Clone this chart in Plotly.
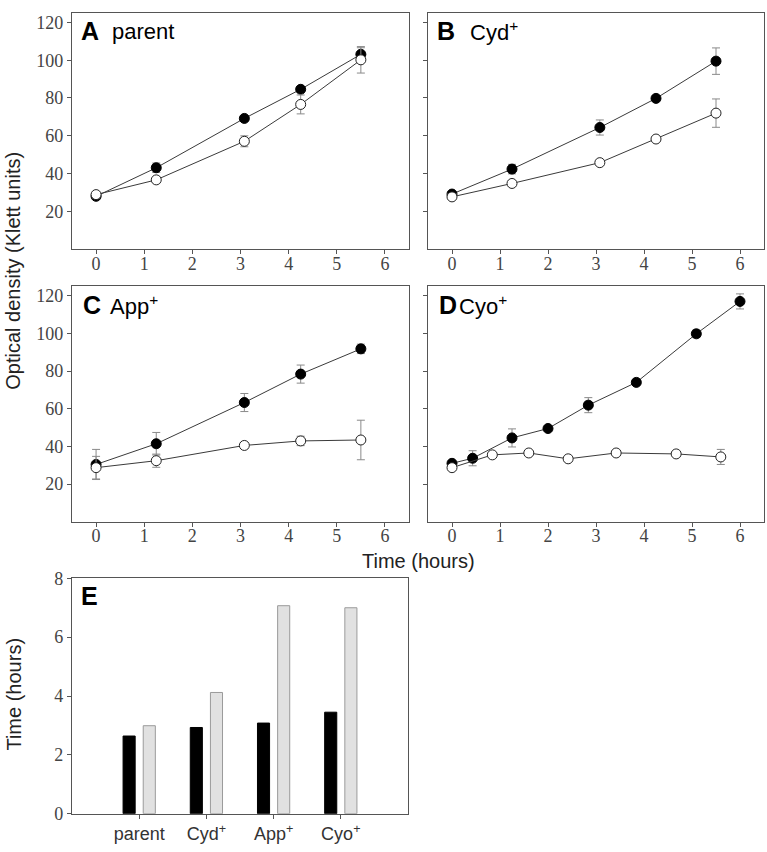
import plotly.graph_objects as go

# ---------------- data ----------------
# Panel A: parent
a_t = [0, 1.25, 3.08, 4.25, 5.5]
a_fill = [28.0, 43.1, 69.2, 84.6, 103.1]
a_fill_err = [1.5, 2.5, 1.0, 1.5, 3.5]
a_open = [28.9, 36.7, 57.1, 76.6, 100.2]
a_open_err = [1.0, 1.5, 2.9, 5.0, 7.0]

# Panel B: Cyd+
b_t = [0, 1.25, 3.08, 4.25, 5.5]
b_fill = [29.2, 42.4, 64.4, 79.8, 99.5]
b_fill_err = [1.0, 2.5, 4.0, 1.0, 7.0]
b_open = [27.7, 34.8, 45.8, 58.3, 72.0]
b_open_err = [1.0, 1.0, 1.0, 1.0, 7.5]

# Panel C: App+
c_t = [0, 1.25, 3.08, 4.25, 5.5]
c_fill = [30.4, 41.4, 63.3, 78.4, 91.8]
c_fill_err = [8.0, 6.0, 4.8, 4.8, 2.5]
c_open = [28.7, 32.4, 40.5, 42.9, 43.4]
c_open_err = [6.0, 3.5, 1.0, 2.5, 10.5]

# Panel D: Cyo+
d_t_fill = [0, 0.43, 1.25, 2.0, 2.84, 3.84, 5.09, 6.0]
d_fill = [31.0, 33.7, 44.5, 49.5, 61.9, 74.0, 99.8, 117.0]
d_fill_err = [1.0, 4.0, 4.8, 1.0, 4.0, 1.0, 2.0, 4.0]
d_t_open = [0, 0.84, 1.6, 2.42, 3.42, 4.67, 5.6]
d_open = [28.7, 35.5, 36.5, 33.4, 36.5, 36.0, 34.4]
d_open_err = [1.0, 1.0, 1.0, 1.0, 1.0, 1.0, 4.0]

# Panel E: times
e_categories = ["parent", "Cyd<sup>+</sup>", "App<sup>+</sup>", "Cyo<sup>+</sup>"]
e_black = [2.64, 2.93, 3.08, 3.45]
e_grey = [2.99, 4.12, 7.07, 7.00]

xticks = [0, 1, 2, 3, 4, 5, 6]
yticks = [20, 40, 60, 80, 100, 120]
e_yticks = [0, 2, 4, 6, 8]

panel_letters = ["A", "B", "C", "D", "E"]
panel_names = ["parent", "Cyd<sup>+</sup>", "App<sup>+</sup>", "Cyo<sup>+</sup>"]

# ---------------- figure ----------------
W, H = 767, 852
def px(x):
    return x / W
def py(y):
    return 1 - y / H

fig = go.Figure()

LINE_C = "#3a3a3a"
ERR_C = "#8a8a8a"
SERIF = "Liberation Serif"
SANS = "Liberation Sans"

def add_pair(xf, yf, ef, xo, yo, eo, ax):
    xa, ya = ("x", "y") if ax == 1 else (f"x{ax}", f"y{ax}")
    fig.add_trace(go.Scatter(
        x=xf, y=yf, xaxis=xa, yaxis=ya, mode="lines+markers",
        line=dict(color=LINE_C, width=1),
        marker=dict(size=10, color="black", line=dict(color="black", width=1)),
        error_y=dict(type="data", array=ef, color=ERR_C, thickness=1, width=4),
        showlegend=False))
    fig.add_trace(go.Scatter(
        x=xo, y=yo, xaxis=xa, yaxis=ya, mode="lines+markers",
        line=dict(color=LINE_C, width=1),
        marker=dict(size=10, color="white", line=dict(color="#222", width=1)),
        error_y=dict(type="data", array=eo, color=ERR_C, thickness=1, width=4),
        showlegend=False))

add_pair(a_t, a_fill, a_fill_err, a_t, a_open, a_open_err, 1)
add_pair(b_t, b_fill, b_fill_err, b_t, b_open, b_open_err, 2)
add_pair(c_t, c_fill, c_fill_err, c_t, c_open, c_open_err, 3)
add_pair(d_t_fill, d_fill, d_fill_err, d_t_open, d_open, d_open_err, 4)

fig.add_trace(go.Bar(x=e_categories, y=e_black, xaxis="x5", yaxis="y5",
                     width=0.18, offset=-0.24,
                     marker=dict(color="black", line=dict(color="black", width=1)),
                     showlegend=False))
fig.add_trace(go.Bar(x=e_categories, y=e_grey, xaxis="x5", yaxis="y5",
                     width=0.18, offset=0.06,
                     marker=dict(color="#e1e1e1", line=dict(color="#9a9a9a", width=1)),
                     showlegend=False))

# domains (pixel-derived)
xdomL = [px(72), px(409)]
xdomR = [px(428), px(764)]
ydomTop = [py(245), py(3)]
ydomMid = [py(524), py(283)]
ydomE = [py(823), py(582)]

axis_common = dict(showline=True, linecolor="#555", linewidth=1.2, mirror=True,
                   ticks="outside", ticklen=4, tickcolor="#555", tickwidth=1,
                   showgrid=False, zeroline=False,
                   tickfont=dict(family=SERIF, size=18, color="#444"))

def xax(dom, anchor):
    d = dict(axis_common)
    d.update(domain=dom, anchor=anchor, range=[-0.5, 6.5], tickvals=xticks,
             ticklabelstandoff=-6)
    return d

def yax(dom, anchor, labels=True):
    d = dict(axis_common)
    d.update(domain=dom, anchor=anchor, range=[0, 125], tickvals=yticks,
             showticklabels=labels)
    return d

fig.update_layout(
    width=W, height=H, margin=dict(l=0, r=0, t=0, b=0),
    paper_bgcolor="white", plot_bgcolor="white",
    barmode="group",
    xaxis=xax(xdomL, "y"), yaxis=yax(ydomTop, "x"),
    xaxis2=xax(xdomR, "y2"), yaxis2=yax(ydomTop, "x2", False),
    xaxis3=xax(xdomL, "y3"), yaxis3=yax(ydomMid, "x3"),
    xaxis4=xax(xdomR, "y4"), yaxis4=yax(ydomMid, "x4", False),
)
e_x = dict(axis_common)
e_x.update(domain=[px(72), px(408)], anchor="y5", range=[-1, 4], type="category",
           tickfont=dict(family=SANS, size=18, color="#333"))
e_y = dict(axis_common)
e_y.update(domain=ydomE, anchor="x5", range=[0, 8], tickvals=e_yticks)
fig.update_layout(xaxis5=e_x, yaxis5=e_y)

ann = []
# panel letters and names
letter_pos = [(79, 22), (435, 22), (81, 302), (437, 302), (79, 600)]
name_pos = [(110, 22), (468, 22), (108, 302), (457, 302)]
for i, L in enumerate(panel_letters):
    lx, ly = letter_pos[i]
    ann.append(dict(x=px(lx), y=py(ly), xref="paper", yref="paper", text=f"<b>{L}</b>",
                    showarrow=False, xanchor="left", yanchor="middle",
                    font=dict(family=SANS, size=25, color="black")))
for i, N in enumerate(panel_names):
    nx, ny = name_pos[i]
    ann.append(dict(x=px(nx), y=py(ny), xref="paper", yref="paper", text=N,
                    showarrow=False, xanchor="left", yanchor="middle",
                    font=dict(family=SANS, size=22, color="black")))
# axis titles
ann.append(dict(x=px(13), y=py(267), xref="paper", yref="paper",
                text="Optical density (Klett units)", textangle=-90, showarrow=False,
                xanchor="center", yanchor="middle",
                font=dict(family=SANS, size=20, color="#222")))
ann.append(dict(x=px(418), y=py(564), xref="paper", yref="paper",
                text="Time (hours)", showarrow=False, xanchor="center", yanchor="middle",
                font=dict(family=SANS, size=20, color="#222")))
ann.append(dict(x=px(14), y=py(701), xref="paper", yref="paper",
                text="Time (hours)", textangle=-90, showarrow=False,
                xanchor="center", yanchor="middle",
                font=dict(family=SANS, size=20, color="#222")))
fig.update_layout(annotations=ann)

fig.write_html("out.html", config={"displayModeBar": False},
               post_script="document.body.style.margin='0';")
